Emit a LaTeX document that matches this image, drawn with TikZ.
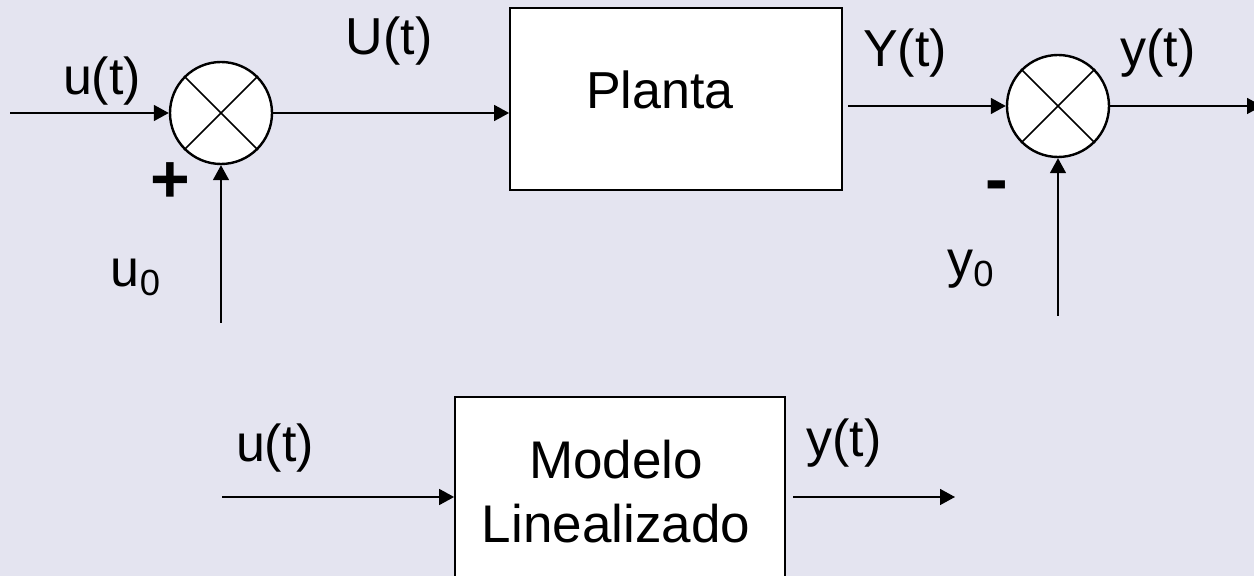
\documentclass[tikz,border=0pt]{standalone}
\usepackage{fontspec}
\setmainfont{Liberation Sans}
\usetikzlibrary{arrows.meta}
\definecolor{bgc}{RGB}{228,228,240}
\tikzset{
  px/.style={x=0.5pt,y=-0.5pt},
  sumnode/.style={circle,draw,line width=1.2pt,fill=white,minimum size=51pt,inner sep=0pt},
  blockbox/.style={rectangle,draw,line width=0.9pt,fill=white,inner sep=0pt},
  sig/.style={line width=0.8pt,-{Triangle[length=7.5pt,width=8pt]}},
  lbl/.style={font=\fontsize{26}{30}\selectfont,inner sep=0pt,anchor=base},
  big/.style={font=\fontsize{26.5}{30}\selectfont,inner sep=0pt,anchor=base},
  sign/.style={font=\fontsize{34}{36}\selectfont\bfseries,inner sep=0pt},
}
\begin{document}
\begin{tikzpicture}[px]
\fill[bgc] (0,0) rectangle (1254,576);
\useasboundingbox (0,0) rectangle (1254,576);
\clip (0,0) rectangle (1254,576);
% top row
\node[sumnode] (s1) at (221,113) {};
\draw[line width=0.8pt] (s1.north west) -- (s1.south east) (s1.north east) -- (s1.south west);
\node[blockbox,minimum width=166pt,minimum height=91pt] (plant) at (676,99) {};
\node[lbl] (tplant) at (660,109) {Planta};
\node[sumnode] (s2) at (1058,106) {};
\draw[line width=0.8pt] (s2.north west) -- (s2.south east) (s2.north east) -- (s2.south west);
\coordinate (in1) at (10,113);
\coordinate (u0s) at (221,323);
\coordinate (y0s) at (1058,316);
\coordinate (pout) at (848,106);
\coordinate (yout) at (1262,106);
\draw[sig] (in1) -- (s1.west);
\draw[sig] (s1.east) -- (plant.west |- s1.east);
\draw[sig] (pout) -- (s2.west);
\draw[sig] (s2.east) -- (yout);
\draw[sig] (u0s) -- (s1.south);
\draw[sig] (y0s) -- (s2.south);
\node[lbl] (lu) at (102,95) {u(t)};
\node[lbl] (lU) at (389,55) {U(t)};
\node[lbl] (lY) at (905,67) {Y(t)};
\node[lbl] (ly) at (1158,67) {y(t)};
\node[sign] (plus) at (170,183) {+};
\node[sign] (minus) at (997,192) {-};
\node[lbl] (lu0) at (136,287) {u\textsubscript{0}};
\node[lbl] (ly0) at (971,278) {y\textsubscript{0}};
% bottom row
\node[blockbox,minimum width=165pt,minimum height=112pt] (model) at (620,509) {};
\node[big] (tmodel1) at (616,479) {Modelo};
\node[big] (tmodel2) at (616,543) {Linealizado};
\coordinate (in2) at (222,497);
\coordinate (out2) at (955,497);
\coordinate (mout) at (793,497);
\draw[sig] (in2) -- (model.west |- in2);
\draw[sig] (mout) -- (out2);
\node[lbl] (lu2) at (275,462) {u(t)};
\node[lbl] (ly2) at (844,457) {y(t)};
\end{tikzpicture}
\end{document}
